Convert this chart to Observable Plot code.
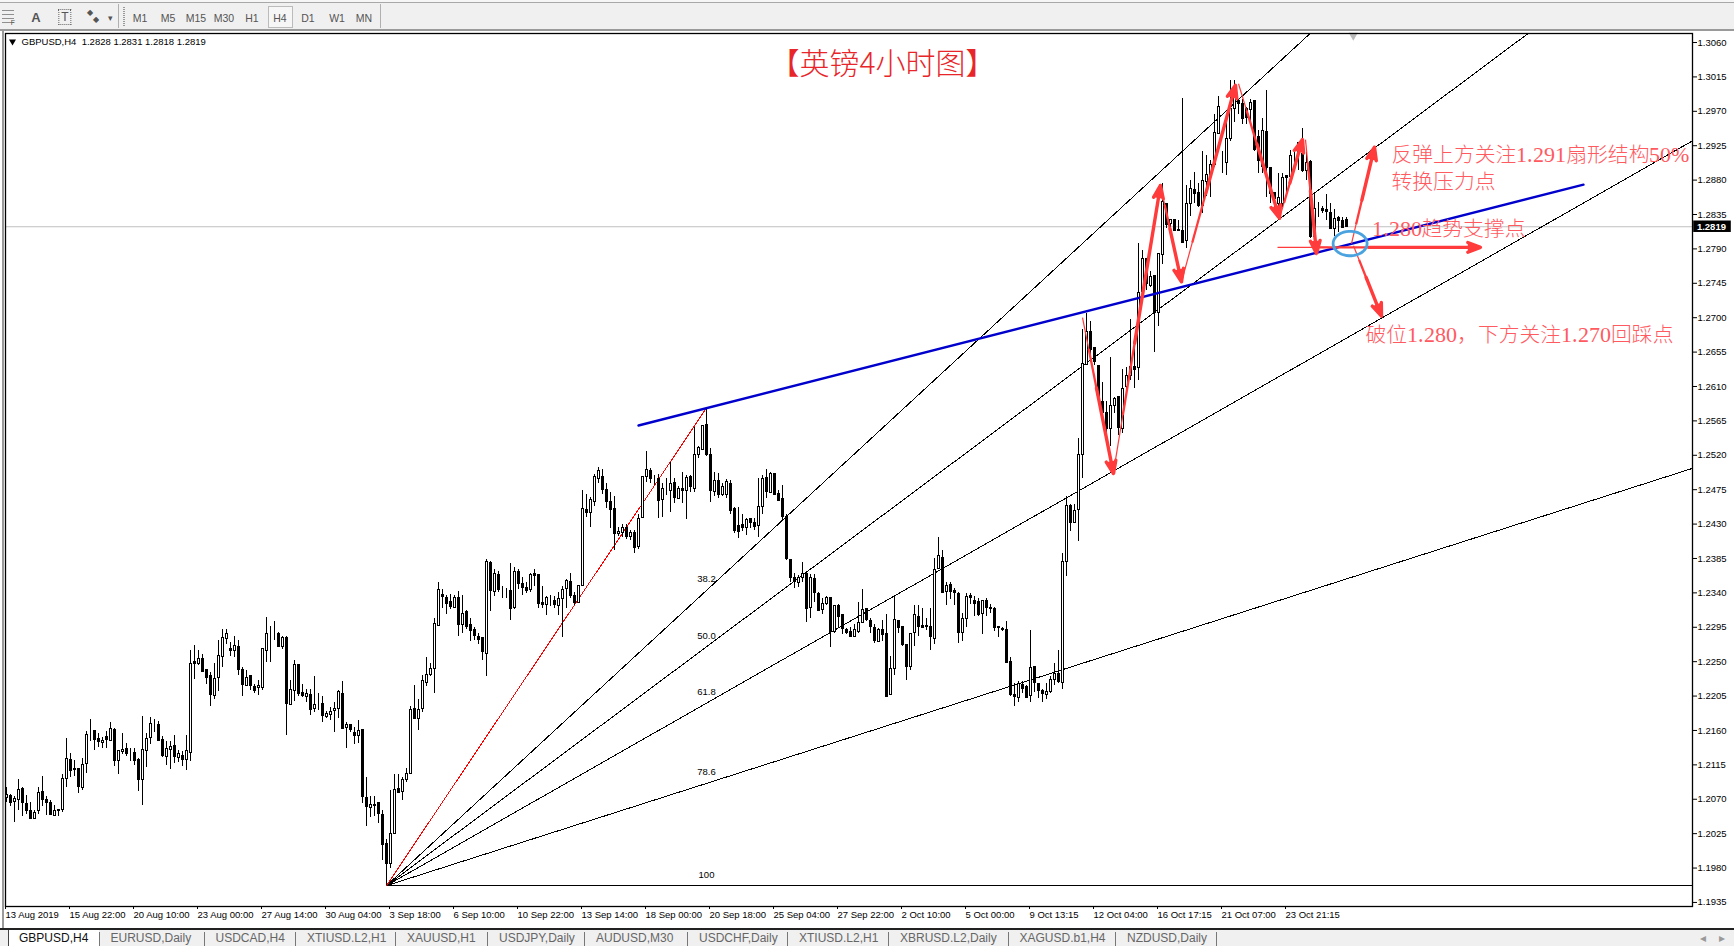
<!DOCTYPE html>
<html><head><meta charset="utf-8">
<script src="https://cdn.jsdelivr.net/npm/d3@7"></script>
<script src="https://cdn.jsdelivr.net/npm/@observablehq/plot@0.6"></script>
<style>
@font-face{font-family:"NoteLatin";src:local("Liberation Serif");size-adjust:104%;unicode-range:U+0020-007E}
html,body{margin:0;padding:0;background:#fff;overflow:hidden}
#page{position:relative;width:1734px;height:946px;overflow:hidden;background:#fff;font-family:"Liberation Sans",sans-serif}
#cap{position:absolute;left:0;top:0;width:1734px;height:3px;background:#f6f6f6}
#bar{position:absolute;left:0;top:2px;width:1734px;height:29px;background:#f0f0f0;border-top:1px solid #a8a8a8;border-bottom:2px solid #9a9a9a;box-sizing:border-box}
#bar span{position:absolute;top:8.5px;font-size:10.5px;color:#555;transform:translateX(-50%);line-height:12px}
#bar i{position:absolute;background:#b0b0b0;width:1px;top:1px;height:24px}
#bar i.grid{left:2px;top:7px;width:12px;height:13px;background:repeating-linear-gradient(to bottom,#666 0,#666 1px,transparent 1px,transparent 4px);opacity:.7}
#bar i.grip{left:123px;top:4px;width:2px;height:19px;background:repeating-linear-gradient(to bottom,#999 0,#999 1px,transparent 1px,transparent 2px)}
#chart{position:absolute;left:0;top:30px}
#edge{position:absolute;left:2px;top:31px;width:2px;height:897px;background:#9a9a9a}
#tabs{position:absolute;left:0;top:928px;width:1734px;height:18px;background:#f0f0f0;border-top:2px solid #222;box-sizing:border-box;overflow:hidden}
#tabs span{position:absolute;top:0;font-size:12px;color:#666;line-height:16px;white-space:pre}
#tabs i{position:absolute;top:2px;height:14px;width:1px;background:#777}
#tabs b{position:absolute;left:8px;top:0;width:90px;height:16px;background:#fff;border-left:1px solid #444}
</style></head>
<body><div id="page"><div id="cap"></div><div id="bar"></div><div id="edge"></div><div id="chart"></div><div id="tabs"></div></div>
<script>
const opens=[12072,12074,12066,12069,12084,12064,12055,12044,12054,12079,
12069,12065,12048,12055,12056,12096,12122,12110,12109,12085,
12116,12155,12159,12149,12143,12152,12146,12161,12120,12132,
12136,12130,12131,12122,12095,12133,12150,12167,12167,12147,
12125,12135,12140,12124,12127,12121,12130,12249,12247,12253,
12239,12231,12205,12228,12256,12280,12266,12264,12269,12239,
12218,12231,12217,12215,12215,12264,12286,12286,12286,12269,
12281,12193,12212,12246,12209,12204,12207,12188,12194,12195,
12177,12180,12185,12188,12208,12163,12167,12157,12153,12160,
12072,12058,12063,12065,12050,12011,11985,12024,12084,12080,
12095,12103,12188,12175,12188,12222,12232,12241,12297,12337,
12333,12328,12320,12333,12298,12315,12298,12291,12282,12281,
12260,12379,12341,12364,12345,12344,12342,12320,12367,12351,
12346,12344,12365,12363,12327,12324,12331,12329,12323,12332,
12345,12354,12336,12327,12349,12449,12444,12459,12489,12491,
12474,12459,12450,12417,12418,12425,12413,12418,12400,12438,
12492,12500,12489,12489,12462,12476,12473,12484,12463,12476,
12473,12491,12476,12520,12527,12559,12521,12472,12487,12468,
12468,12483,12450,12428,12429,12425,12436,12432,12428,12452,
12490,12471,12495,12470,12463,12439,12383,12359,12353,12360,
12365,12320,12358,12339,12318,12325,12333,12289,12323,12311,
12292,12289,12282,12289,12301,12319,12303,12294,12276,12291,
12286,12207,12240,12303,12295,12272,12243,12287,12309,12297,
12297,12296,12280,12371,12386,12341,12350,12342,12339,12287,
12306,12336,12330,12328,12312,12329,12320,12319,12295,12293,
12291,12250,12206,12203,12219,12217,12205,12243,12221,12211,
12207,12210,12226,12234,12222,12381,12454,12432,12448,12520,
12638,12681,12660,12637,12590,12575,12555,12584,12596,12554,
12609,12624,12635,12634,12733,12777,12742,12755,12706,12782,
12849,12822,12828,12815,12814,12800,12849,12867,12863,12846,
12878,12887,12900,12940,12903,12903,12934,12973,12984,12979,
12973,12972,12983,12936,12897,12943,12896,12863,12849,12849,
12885,12884,12914,12914,12914,12892,12904,12806,12843,12842,
12841,12837,12816,12831,12826,12828];
const closes=[12075,12065,12070,12082,12065,12055,12044,12052,12078,12069,
12065,12049,12054,12056,12096,12123,12107,12108,12086,12115,
12154,12155,12147,12145,12146,12147,12162,12120,12133,12135,
12129,12130,12120,12095,12134,12149,12169,12167,12146,12126,
12136,12139,12125,12129,12122,12133,12247,12247,12254,12237,
12229,12206,12227,12258,12281,12286,12264,12270,12239,12219,
12229,12218,12212,12218,12266,12286,12286,12286,12269,12281,
12195,12213,12245,12208,12205,12208,12187,12193,12194,12179,
12182,12184,12188,12210,12162,12167,12161,12153,12159,12073,
12060,12062,12061,12051,12010,11985,12024,12082,12078,12095,
12103,12187,12175,12187,12225,12233,12240,12299,12344,12334,
12325,12322,12333,12298,12313,12295,12290,12283,12279,12262,
12380,12343,12365,12344,12345,12344,12319,12367,12352,12347,
12343,12363,12362,12326,12324,12333,12331,12324,12332,12344,
12355,12336,12327,12349,12450,12444,12461,12491,12500,12475,
12459,12448,12417,12420,12425,12413,12418,12399,12437,12491,
12501,12489,12489,12460,12476,12476,12483,12464,12476,12473,
12490,12478,12520,12530,12558,12520,12473,12486,12468,12478,
12485,12447,12421,12420,12425,12435,12432,12426,12452,12489,
12472,12496,12468,12460,12439,12384,12360,12354,12360,12365,
12319,12359,12340,12316,12326,12333,12289,12323,12309,12293,
12288,12282,12291,12301,12318,12304,12295,12277,12292,12285,
12204,12240,12304,12294,12272,12243,12286,12311,12296,12294,
12296,12282,12370,12388,12340,12349,12341,12340,12288,12306,
12335,12333,12325,12311,12329,12320,12319,12294,12294,12292,
12248,12206,12204,12221,12214,12203,12242,12222,12211,12208,
12210,12226,12234,12224,12381,12454,12432,12447,12520,12639,
12681,12658,12642,12596,12575,12555,12585,12594,12556,12607,
12624,12635,12632,12732,12777,12744,12753,12706,12783,12851,
12821,12828,12814,12814,12798,12849,12868,12862,12846,12879,
12887,12900,12941,12976,12903,12934,12973,13001,12979,12960,
12961,12981,12919,12905,12944,12896,12862,12855,12856,12883,
12883,12912,12914,12929,12892,12903,12806,12842,12843,12839,
12838,12816,12829,12827,12818,12819];
const highs=[12086,12076,12074,12096,12085,12075,12066,12055,12086,12100,
12073,12068,12062,12057,12102,12150,12130,12121,12109,12123,
12158,12174,12160,12156,12151,12159,12171,12162,12134,12156,
12143,12136,12136,12123,12178,12156,12177,12174,12172,12152,
12145,12146,12153,12134,12133,12153,12265,12271,12265,12259,
12239,12236,12247,12278,12292,12292,12275,12283,12278,12242,
12238,12232,12220,12225,12267,12308,12296,12303,12288,12283,
12283,12225,12252,12246,12220,12214,12213,12231,12209,12205,
12185,12190,12196,12212,12224,12171,12167,12164,12173,12161,
12099,12073,12073,12065,12055,12018,12082,12103,12103,12099,
12110,12191,12219,12201,12232,12256,12248,12307,12353,12344,
12337,12338,12337,12342,12336,12317,12307,12295,12287,12281,
12384,12381,12370,12368,12348,12346,12378,12373,12370,12360,
12354,12366,12370,12363,12348,12335,12337,12335,12341,12348,
12358,12366,12341,12350,12474,12469,12465,12495,12504,12501,
12483,12471,12466,12425,12430,12430,12422,12422,12443,12492,
12525,12503,12493,12495,12483,12490,12511,12490,12479,12497,
12494,12493,12557,12531,12559,12582,12529,12498,12496,12483,
12488,12487,12452,12452,12442,12437,12437,12437,12489,12494,
12501,12498,12495,12474,12481,12442,12384,12365,12363,12380,
12367,12364,12364,12340,12333,12335,12334,12324,12325,12311,
12293,12295,12298,12328,12344,12319,12306,12298,12293,12304,
12312,12257,12337,12304,12296,12272,12287,12324,12323,12319,
12306,12319,12385,12412,12395,12354,12354,12346,12340,12313,
12339,12339,12335,12333,12330,12333,12325,12321,12296,12295,
12302,12256,12221,12224,12224,12219,12291,12243,12222,12214,
12221,12230,12248,12264,12392,12466,12455,12455,12542,12684,
12705,12695,12660,12637,12615,12590,12648,12596,12596,12632,
12635,12697,12675,12797,12788,12777,12761,12755,12783,12876,
12850,12829,12829,12827,12987,12873,12879,12890,12875,12918,
12912,12905,12966,12989,12918,12958,13010,13010,12986,12986,
12975,12986,12983,12945,12960,12997,12897,12864,12889,12888,
12886,12919,12921,12929,12947,12916,12905,12864,12851,12845,
12861,12849,12842,12833,12831,12831];
const lows=[12066,12060,12040,12055,12047,12050,12043,12043,12050,12060,
12049,12049,12048,12048,12053,12086,12099,12100,12078,12081,
12104,12146,12134,12138,12137,12137,12146,12113,12102,12129,
12126,12120,12114,12080,12062,12112,12142,12157,12145,12124,
12114,12109,12117,12118,12113,12107,12120,12227,12245,12236,
12220,12191,12201,12211,12242,12273,12257,12256,12232,12205,
12218,12212,12209,12206,12212,12249,12249,12278,12268,12266,
12153,12193,12198,12204,12203,12197,12180,12183,12186,12170,
12175,12173,12157,12175,12162,12136,12157,12142,12143,12064,
12034,12046,12047,12038,11990,11957,11979,12024,12078,12068,
12092,12103,12175,12160,12184,12218,12231,12208,12297,12320,
12312,12318,12319,12283,12287,12292,12277,12278,12273,12251,
12231,12315,12335,12341,12333,12333,12304,12318,12344,12337,
12339,12341,12348,12320,12320,12311,12322,12320,12311,12281,
12319,12333,12324,12326,12349,12439,12425,12453,12483,12469,
12451,12424,12396,12414,12413,12410,12409,12391,12397,12437,
12485,12483,12481,12437,12439,12468,12445,12457,12462,12457,
12436,12471,12471,12516,12527,12518,12458,12466,12463,12466,
12463,12442,12418,12411,12420,12415,12424,12422,12412,12442,
12463,12471,12468,12459,12435,12383,12354,12346,12347,12354,
12301,12306,12328,12315,12312,12324,12269,12287,12295,12285,
12285,12282,12282,12287,12300,12303,12287,12274,12276,12276,
12203,12206,12232,12287,12270,12225,12239,12270,12283,12293,
12291,12264,12272,12370,12339,12323,12331,12324,12274,12277,
12295,12325,12309,12309,12285,12309,12313,12289,12282,12289,
12248,12204,12192,12197,12208,12202,12196,12210,12202,12196,
12200,12208,12219,12221,12214,12361,12420,12433,12407,12490,
12637,12642,12638,12592,12575,12548,12531,12575,12546,12548,
12602,12618,12607,12618,12720,12735,12740,12654,12688,12770,
12817,12818,12813,12814,12797,12790,12833,12849,12844,12836,
12859,12857,12896,12940,12888,12886,12931,12955,12966,12953,
12953,12955,12918,12888,12888,12857,12849,12840,12838,12844,
12862,12879,12892,12892,12890,12879,12804,12792,12831,12836,
12827,12816,12806,12812,12817,12818];

const dateLabels=["13 Aug 2019","15 Aug 22:00","20 Aug 10:00","23 Aug 00:00","27 Aug 14:00","30 Aug 04:00","3 Sep 18:00","6 Sep 10:00","10 Sep 22:00","13 Sep 14:00","18 Sep 00:00","20 Sep 18:00","25 Sep 04:00","27 Sep 22:00","2 Oct 10:00","5 Oct 00:00","9 Oct 13:15","12 Oct 04:00","16 Oct 17:15","21 Oct 07:00","23 Oct 21:15"];
const priceTicks=[1.3060,1.3015,1.2970,1.2925,1.2880,1.2835,1.2790,1.2745,1.2700,1.2655,1.2610,1.2565,1.2520,1.2475,1.2430,1.2385,1.2340,1.2295,1.2250,1.2205,1.2160,1.2115,1.2070,1.2025,1.1980,1.1935];
const header="GBPUSD,H4  1.2828 1.2831 1.2818 1.2819";
const lastPrice=1.2819;

// Fibonacci fan
const fanLevels=[38.2,50.0,61.8,78.6,100];
const fanBar=95, fanBase=1.1957, fanTopBar=175, fanTop=1.2582, rightBar=421.5;
// blue trend line [bar, price]
const trendBars=[158,394.25], trendPrices=[1.2559,1.2874];
// red arrows drawn on the chart
const arrowFromBar=[269,276.75,288.5,293.75,308,318.25,324.75,317.75,336.25,336.75];
const arrowFromPrice=[1.2700,1.2498,1.2873,1.2747,1.3006,1.2830,1.2933,1.2792,1.2797,1.2794];
const arrowToBar=[276.75,288.5,293.75,307.25,318.25,324,327.5,368.5,342,343.75];
const arrowToPrice=[1.2496,1.2873,1.2747,1.3004,1.2830,1.2933,1.2784,1.2792,1.2923,1.2702];
// notes
const noteTexts=["反弹上方关注1.291扇形结构50%","转换压力点","1.280趋势支撑点","破位1.280，下方关注1.270回踩点"];
const noteBars=[346.25,346.25,341.25,339.75];
const notePrices=[1.2912,1.2877,1.2815,1.2677];
const titleText="【英镑4小时图】";
const circleBar=335.9, circlePrice=1.2797;

const toolLabels=["M1","M5","M15","M30","H1","H4","D1","W1","MN"];
const tabLabels=["EURUSD,Daily","USDCAD,H4","XTIUSD.L2,H1","XAUUSD,H1","USDJPY,Daily","AUDUSD,M30","USDCHF,Daily","XTIUSD.L2,H1","XBRUSD.L2,Daily","XAGUSD.b1,H4","NZDUSD,Daily"];

const candles=opens.map((o,i)=>({i,open:o/1e4,close:closes[i]/1e4,high:highs[i]/1e4,low:lows[i]/1e4}));
const up=candles.filter(d=>d.close>d.open), down=candles.filter(d=>d.close<=d.open);
const fan=fanLevels.map(l=>{const at=fanTop-(fanTop-fanBase)*l/100;
  return {l,at,x2:rightBar,y2:fanBase+(at-fanBase)*(rightBar-fanBar)/(fanTopBar-fanBar)};});
const arrows=arrowFromBar.map((b,k)=>({x1:b,y1:arrowFromPrice[k],x2:arrowToBar[k],y2:arrowToPrice[k]}));
const lerp=(a,t)=>({x:a.x1+(a.x2-a.x1)*t,y:a.y1+(a.y2-a.y1)*t});
const tapers=[[0,.25,1.2],[.2,.5,2.3]].flatMap(([s,e,w])=>arrows.map(a=>{const p=lerp(a,s),q=lerp(a,e);return {x1:p.x,y1:p.y,x2:q.x,y2:q.y,w};}));
const heads=arrows.map(a=>{const p=lerp(a,.45);return {x1:p.x,y1:p.y,x2:a.x2,y2:a.y2};});
const circle=d3.range(0,6.3,.15).map(t=>({x:circleBar+4.25*Math.cos(t),y:circlePrice+.0016*Math.sin(t)}));
const red="#ff3b3b", noteColor="#ff5a5f";
const noteFont='"NoteLatin","Liberation Serif","Noto Sans CJK SC",serif';
const yTop=1.30718, yBottom=1.19297;

const chart=Plot.plot({
  width:1734,height:898,marginTop:3,marginBottom:22,marginLeft:5,marginRight:42,
  style:{background:"transparent",fontFamily:'"Liberation Sans",sans-serif',fontSize:"9.5px",color:"#000"},
  x:{domain:[0,rightBar],range:[6,1692],axis:null},
  y:{domain:[yBottom,yTop],axis:null},
  marks:[
    Plot.ruleY([lastPrice],{stroke:"#c0c0c0"}),
    Plot.link(fan,{x1:()=>fanBar,y1:()=>fanBase,x2:"x2",y2:"y2",stroke:"#000",strokeWidth:1,clip:true,shapeRendering:"crispEdges"}),
    Plot.link([{x2:fanTopBar,y2:fanTop}],{x1:()=>fanBar,y1:()=>fanBase,x2:"x2",y2:"y2",stroke:"#ff0000",strokeWidth:1,shapeRendering:"crispEdges"}),
    Plot.ruleX(candles,{x:"i",y1:"low",y2:"high",stroke:"#000",strokeWidth:1,shapeRendering:"crispEdges"}),
    Plot.rect(down,{x1:d=>d.i-.25,x2:d=>d.i+.25,y1:"open",y2:"close",fill:"#000",stroke:"#000",strokeWidth:1,shapeRendering:"crispEdges"}),
    Plot.rect(up,{x1:d=>d.i-.25,x2:d=>d.i+.25,y1:"open",y2:"close",fill:"#fff",stroke:"#000",strokeWidth:1,shapeRendering:"crispEdges"}),
    Plot.text(fan,{x:()=>fanTopBar,y:"at",text:d=>d.l===100?"100":d.l.toFixed(1),dy:-11,fill:"#000",fontSize:9.5}),
    Plot.line(trendBars.map((b,k)=>({b,p:trendPrices[k]})),{x:"b",y:"p",stroke:"#0000cd",strokeWidth:2.4}),
    Plot.link(tapers,{x1:"x1",y1:"y1",x2:"x2",y2:"y2",stroke:red,strokeWidth:"w"}),
    Plot.arrow(heads,{x1:"x1",y1:"y1",x2:"x2",y2:"y2",bend:0,stroke:red,fill:red,strokeWidth:3.4,headLength:6,headAngle:42}),
    Plot.line(circle,{x:"x",y:"y",stroke:"#4aa3df",strokeWidth:2.8,curve:"linear-closed"}),
    Plot.text(noteTexts,{x:(d,k)=>noteBars[k],y:(d,k)=>notePrices[k],text:d=>d,textAnchor:"start",fill:noteColor,fontSize:20.8,fontWeight:300,fontFamily:noteFont}),
    Plot.text([titleText],{x:()=>219,y:()=>1.3031,text:d=>d,fill:"#e8262a",fontSize:30,fontWeight:300,fontFamily:'"Noto Sans CJK SC"'}),
    Plot.text([header],{frameAnchor:"top-left",lineAnchor:"middle",dx:16,dy:8,text:d=>d,textAnchor:"start",fill:"#000",fontSize:9.5}),
    Plot.dot([header],{frameAnchor:"top-left",dx:7,dy:8,symbol:"triangle",rotate:180,r:2.6,fill:"#000"}),
    Plot.dot([1],{x:()=>336.7,y:()=>yTop,dy:2,symbol:"triangle",rotate:180,r:3.4,fill:"#bbb"}),
    Plot.frame({stroke:"#000",strokeWidth:1.3}),
    Plot.axisY({anchor:"right",ticks:priceTicks,tickFormat:d=>d.toFixed(4),tickSize:4,tickPadding:1,label:null,fontSize:9.5}),
    Plot.axisX({anchor:"bottom",ticks:dateLabels.map((d,k)=>k*16),tickFormat:v=>dateLabels[v/16],tickSize:3,tickPadding:2,textAnchor:"start",dx:-1,label:null,fontSize:9.5}),
    Plot.rect([lastPrice],{x1:()=>rightBar+.3,x2:()=>rightBar+9.7,y1:d=>d-.00075,y2:d=>d+.00075,fill:"#000"}),
    Plot.text([lastPrice],{x:()=>rightBar+1.1,y:d=>d,text:d=>d.toFixed(4),textAnchor:"start",fill:"#fff",fontSize:9.5,fontWeight:"bold"})
  ]
});
document.getElementById("chart").append(chart);

// toolbar
const bar=document.getElementById("bar");
const toolX=[140,168,196,224,252,280,308,337,364];
const box=document.createElement("i");box.style.cssText="left:268px;width:25px;top:3px;height:22px;background:#f6f6f6;border:1px solid #bbb;box-sizing:border-box";bar.append(box);
toolLabels.forEach((t,k)=>{const s=document.createElement("span");s.textContent=t;s.style.left=toolX[k]+"px";bar.append(s);});
const grid=document.createElement("i");grid.className="grid";bar.append(grid);
const grip=document.createElement("i");grip.className="grip";bar.append(grip);
[["A",36,"bold 13px"],["T",65,"12px"]].forEach(([t,x,f])=>{const s=document.createElement("span");s.textContent=t;s.style.left=x+"px";s.style.font=f+' "Liberation Sans"';s.style.top="7px";if(t==="T"){s.style.border="1px dotted #666";s.style.padding="0 2px";s.style.top="6px";}bar.append(s);});
[["F",13,"7px",14],["◆",90,"8px",4],["◆",96,"8px",11],["▾",110,"9px",9]].forEach(([t,x,f,y])=>{const s=document.createElement("span");s.textContent=t;s.style.left=x+"px";s.style.fontSize=f;s.style.top=y+"px";bar.append(s);});
[118,380].forEach(x=>{const l=document.createElement("i");l.style.left=x+"px";bar.append(l);});

// tabs
const tabs=document.getElementById("tabs");
const tabSeps=[98.5,203.5,295,395,487,584,687,787,888,1007.5,1115,1216];
const b=document.createElement("b");tabs.append(b);
const add=(t,x,c)=>{const s=document.createElement("span");s.textContent=t;s.style.left=x+"px";if(c)s.style.color=c;tabs.append(s);};
add("GBPUSD,H4",19,"#111");
tabLabels.forEach((t,k)=>add(t,tabSeps[k]+12));
tabSeps.forEach(x=>{const l=document.createElement("i");l.style.left=x+"px";tabs.append(l);});
add("◂",1700,"#999");add("▸",1719,"#999");
</script></body></html>
